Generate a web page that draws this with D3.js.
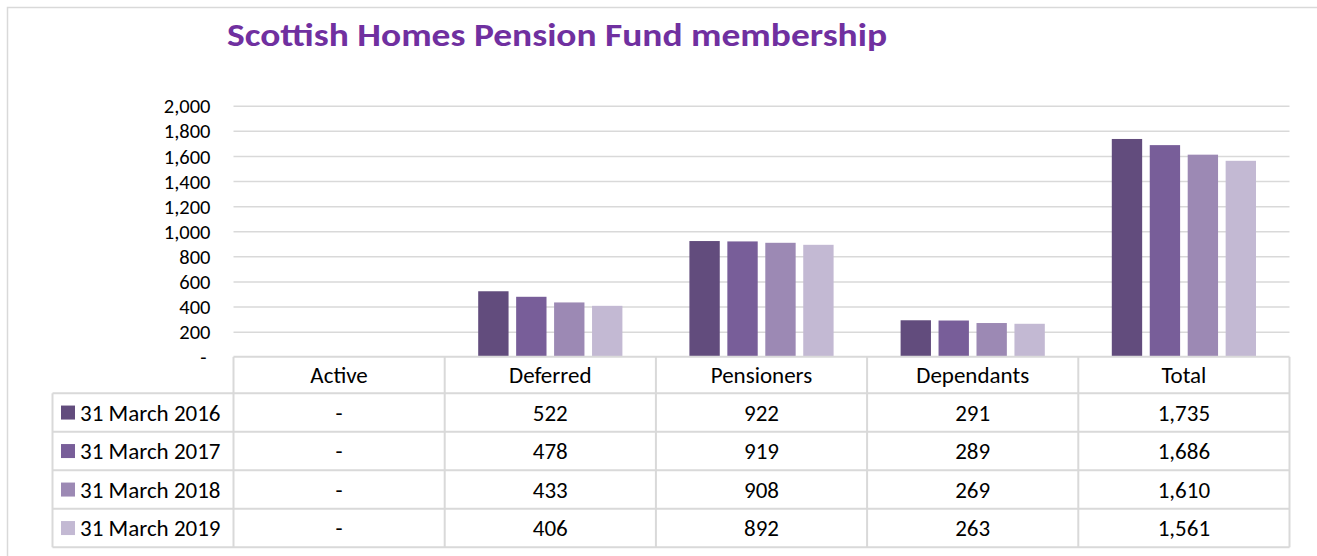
<!DOCTYPE html>
<html>
<head>
<meta charset="utf-8">
<script src="https://cdn.jsdelivr.net/npm/d3@7"></script>
<style>
  body { margin: 0; background: #fff; }
  text { font-family: Calibri, Carlito, Lato, sans-serif; }
</style>
</head>
<body>
<div id="chart"></div>
<script>
// data
var categories = ["Active", "Deferred", "Pensioners", "Dependants", "Total"];
var seriesNames = ["31 March 2016", "31 March 2017", "31 March 2018", "31 March 2019"];
var values2016 = [0, 522, 922, 291, 1735];
var values2017 = [0, 478, 919, 289, 1686];
var values2018 = [0, 433, 908, 269, 1610];
var values2019 = [0, 406, 892, 263, 1561];
var yTicks = [0, 200, 400, 600, 800, 1000, 1200, 1400, 1600, 1800, 2000];
var colors = ["#624c7d", "#785e99", "#9c89b4", "#c3b9d3"];

var allValues = [values2016, values2017, values2018, values2019];

var W = 1317, H = 556;
var plotLeft = 233.5, plotRight = 1289.5;
var plotTop = 105.7, plotBottom = 356.8;
var headerH = 36.5, rowH = 38.5;
var legendLeft = 52.5;
var gridColor = "#d9d9d9";
var fs = "23px";

var svg = d3.select("#chart").append("svg")
  .attr("width", W)
  .attr("height", H);

// outer chart border (top + left visible)
svg.append("path")
  .attr("d", "M7.5," + H + "V7.5H" + W)
  .attr("fill", "none")
  .attr("stroke", gridColor)
  .attr("stroke-width", 1.5);

// title
svg.append("text")
  .attr("x", 227)
  .attr("y", 46)
  .attr("fill", "#7030a0")
  .style("font-weight", "bold")
  .style("font-size", "32px")
  .attr("textLength", 660)
  .attr("lengthAdjust", "spacingAndGlyphs")
  .text("Scottish Homes Pension Fund membership");

var x0 = d3.scaleBand()
  .domain(categories)
  .range([plotLeft, plotRight])
  .paddingInner(0)
  .paddingOuter(0);

var x1 = d3.scaleBand()
  .domain(seriesNames)
  .range([33.5, x0.bandwidth() - 33.5])
  .paddingInner(0.2)
  .paddingOuter(0);

var y = d3.scaleLinear()
  .domain([0, 2000])
  .range([plotBottom, plotTop]);

var fmt = function(v) { return v === 0 ? "-" : d3.format(",")(v); };

// gridlines + y axis labels
var yAxis = svg.append("g")
  .attr("transform", "translate(" + plotLeft + ",0)")
  .call(d3.axisLeft(y)
    .tickValues(yTicks)
    .tickSize(-(plotRight - plotLeft))
    .tickPadding(23)
    .tickFormat(fmt));
yAxis.select(".domain").remove();
yAxis.selectAll(".tick line")
  .attr("stroke", gridColor)
  .attr("stroke-width", 1.5)
  .attr("display", function(d) { return d === 0 ? "none" : null; });
yAxis.selectAll(".tick text")
  .attr("fill", "#000")
  .style("font-size", "20.5px")
  .attr("dy", "0.35em")
  .attr("dx", function(d) { return d === 0 ? -4 : 0; });

// bars
var groups = svg.append("g").selectAll("g")
  .data(categories)
  .enter().append("g")
  .attr("transform", function(d) { return "translate(" + x0(d) + ",0)"; });

groups.selectAll("rect")
  .data(function(d, ci) {
    return seriesNames.map(function(s, si) { return { s: s, si: si, v: allValues[si][ci] }; });
  })
  .enter().append("rect")
  .attr("x", function(d) { return x1(d.s); })
  .attr("width", x1.bandwidth())
  .attr("y", function(d) { return y(d.v); })
  .attr("height", function(d) { return y(0) - y(d.v); })
  .attr("fill", function(d) { return colors[d.si]; });

// data table
var table = svg.append("g");
var tableTop = plotBottom;
var tableBottom = tableTop + headerH + rowH * seriesNames.length;
var lineAttr = function(sel) {
  return sel.attr("stroke", gridColor).attr("stroke-width", 2).attr("fill", "none");
};

// horizontal lines
lineAttr(table.append("line")
  .attr("x1", plotLeft).attr("x2", plotRight)
  .attr("y1", tableTop).attr("y2", tableTop));
for (var r = 0; r <= seriesNames.length; r++) {
  var yy = tableTop + headerH + r * rowH;
  lineAttr(table.append("line")
    .attr("x1", legendLeft).attr("x2", plotRight)
    .attr("y1", yy).attr("y2", yy));
}
// vertical lines
lineAttr(table.append("line")
  .attr("x1", legendLeft).attr("x2", legendLeft)
  .attr("y1", tableTop + headerH).attr("y2", tableBottom));
categories.forEach(function(c) {
  lineAttr(table.append("line")
    .attr("x1", x0(c)).attr("x2", x0(c))
    .attr("y1", tableTop).attr("y2", tableBottom));
});
lineAttr(table.append("line")
  .attr("x1", plotRight).attr("x2", plotRight)
  .attr("y1", tableTop).attr("y2", tableBottom));

// header labels
table.selectAll(".hdr")
  .data(categories)
  .enter().append("text")
  .attr("class", "hdr")
  .attr("x", function(d) { return x0(d) + x0.bandwidth() / 2; })
  .attr("y", tableTop + headerH / 2)
  .attr("dy", "0.35em")
  .attr("text-anchor", "middle")
  .style("font-size", fs)
  .text(function(d) { return d; });

// rows
seriesNames.forEach(function(s, si) {
  var cy = tableTop + headerH + si * rowH + rowH / 2;
  table.append("rect")
    .attr("x", 61).attr("y", cy - 7)
    .attr("width", 14).attr("height", 14)
    .attr("fill", colors[si]);
  table.append("text")
    .attr("x", 80).attr("y", cy)
    .attr("dy", "0.35em")
    .style("font-size", fs)
    .text(s);
  categories.forEach(function(c, ci) {
    table.append("text")
      .attr("x", x0(c) + x0.bandwidth() / 2)
      .attr("y", cy)
      .attr("dy", "0.35em")
      .attr("text-anchor", "middle")
      .style("font-size", fs)
      .text(fmt(allValues[si][ci]));
  });
});
</script>
</body>
</html>
